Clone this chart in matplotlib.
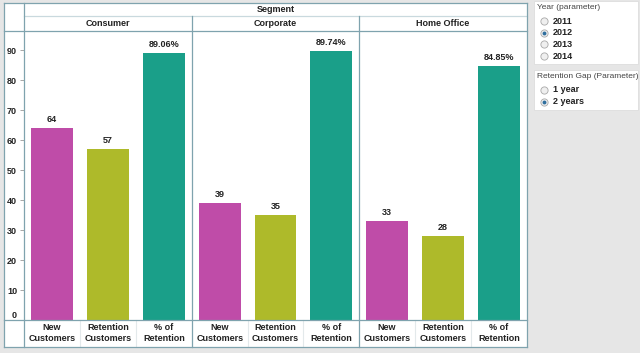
import matplotlib
matplotlib.use("Agg")
import matplotlib.pyplot as plt
from matplotlib.patches import Rectangle
from matplotlib.lines import Line2D

segments = ["Consumer", "Corporate", "Home Office"]
measures = ["New\nCustomers", "Retention\nCustomers", "% of\nRetention"]
new_customers = [64, 39, 33]
retention_customers = [57, 35, 28]
pct_retention = [89.06, 89.74, 84.85]
colors = ["#BF4CA8", "#AEBA2A", "#1A9F89"]
yticks = [0, 10, 20, 30, 40, 50, 60, 70, 80, 90]
years = ["2011", "2012", "2013", "2014"]
year_selected = "2012"
gaps = ["1 year", "2 years"]
gap_selected = "2 years"

W, H = 640, 353
fig = plt.figure(figsize=(W / 100, H / 100), dpi=100)
fig.patch.set_facecolor("#E6E6E6")
FONT = "Liberation Sans"
LINE = "#7FA3AE"
LIGHT = "#C9D9DE"


def fx(x):
    return x / W


def fy(y):
    return 1 - y / H


def hline(x0, x1, y, color=LINE, lw=0.9):
    fig.add_artist(Line2D([fx(x0), fx(x1)], [fy(y), fy(y)], color=color, lw=lw,
                          transform=fig.transFigure))


def vline(x, y0, y1, color=LINE, lw=0.9):
    fig.add_artist(Line2D([fx(x), fx(x)], [fy(y0), fy(y1)], color=color, lw=lw,
                          transform=fig.transFigure))


def rect(x0, y0, x1, y1, fc, ec="none", lw=0.8, z=0):
    fig.add_artist(Rectangle((fx(x0), fy(y1)), fx(x1) - fx(x0), fy(y0) - fy(y1),
                             facecolor=fc, edgecolor=ec, lw=lw,
                             transform=fig.transFigure, zorder=z))


def text(x, y, s, size=6.5, weight="bold", color="#222222", ha="center", va="center"):
    fig.text(fx(x), fy(y), s, fontsize=size, fontweight=weight, color=color,
             ha=ha, va=va, family=FONT, zorder=4)


# chart background
rect(4, 3, 527, 347, "white")

panel_x = [24, 192, 359, 527]
top_plot, bot_plot = 30, 320
ymax = 96.7

for i, seg in enumerate(segments):
    x0, x1 = panel_x[i], panel_x[i + 1]
    ax = fig.add_axes([fx(x0), fy(bot_plot), fx(x1) - fx(x0), fy(top_plot) - fy(bot_plot)])
    ax.set_facecolor("none")
    vals = [new_customers[i], retention_customers[i], pct_retention[i]]
    labels = [f"{new_customers[i]}", f"{retention_customers[i]}", f"{pct_retention[i]:.2f}%"]
    xs = range(len(vals))
    ax.bar(xs, vals, width=0.75, color=colors, edgecolor="none")
    for xv, v, lab in zip(xs, vals, labels):
        ax.text(xv, v + 1.2, lab, ha="center", va="bottom", fontsize=6.5,
                fontweight="bold", color="#222222", family=FONT)
    ax.set_xlim(-0.5, 2.5)
    ax.set_ylim(0, ymax)
    for sp in ax.spines.values():
        sp.set_visible(False)
    ax.set_xticks([])
    if i == 0:
        ax.set_yticks(yticks)
        ax.set_yticklabels([str(t) for t in yticks])
        ax.tick_params(axis="y", length=3, width=0.6, color="#999999", pad=2,
                       labelsize=6.5)
        for lab in ax.get_yticklabels():
            lab.set_fontweight("bold")
            lab.set_family(FONT)
            lab.set_color("#222222")
        ax.get_yticklabels()[0].set_va("bottom")
    else:
        ax.set_yticks([])
    # header
    text((x0 + x1) / 2, 23, seg, size=6.5)
    # x labels
    slot = (x1 - x0) / 3
    for k, m in enumerate(measures):
        text(x0 + slot * (k + 0.5), 333, m, size=6.5)
        if k > 0:
            vline(x0 + slot * k, 320, 347, color="#E3E9EB", lw=0.8)

text((24 + 527) / 2, 10, "Segment", size=6.5)

# grid lines of the table
hline(4, 527, 3)
hline(24, 527, 16, color=LIGHT)
hline(4, 527, 30.5)
hline(4, 527, 320)
hline(4, 527, 347)
vline(4, 3, 347)
vline(24, 3, 347)
vline(527, 3, 347)
for xp in panel_x[1:-1]:
    vline(xp, 16, 347)

# parameter controls


def radio_box(y0, y1, title, opts, sel):
    rect(534, y0, 638, y1, "white", ec="#DDDDDD", lw=0.6, z=1)
    text(537, y0 + 6.5, title, size=6.0, weight="normal", color="#444444", ha="left")
    for j, o in enumerate(opts):
        yy = y0 + 20 + j * 11.7
        fig.add_artist(Line2D([fx(544)], [fy(yy)], marker="o", markersize=5.2,
                              markerfacecolor="#EFEFEF", markeredgecolor="#A8A8A8",
                              markeredgewidth=0.6, transform=fig.transFigure, zorder=2))
        if o == sel:
            fig.add_artist(Line2D([fx(544)], [fy(yy)], marker="o", markersize=2.8,
                                  markerfacecolor="#2F6F9E", markeredgecolor="none",
                                  transform=fig.transFigure, zorder=3))
        text(553, yy, o, size=6.5, ha="left", color="#222222")


radio_box(1, 64, "Year (parameter)", years, year_selected)
radio_box(70, 110, "Retention Gap (Parameter)", gaps, gap_selected)

fig.savefig("out.png", dpi=100, facecolor=fig.get_facecolor())
